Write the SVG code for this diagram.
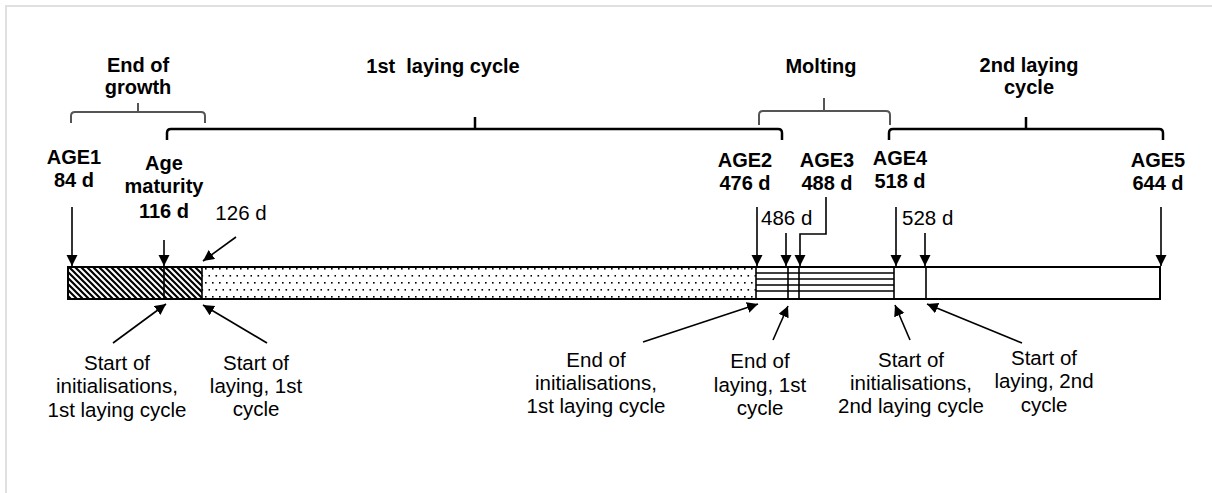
<svg xmlns="http://www.w3.org/2000/svg" width="1212" height="493" viewBox="0 0 1212 493">
<style>
text{font-family:"Liberation Sans",Arial,sans-serif;font-size:20.5px;fill:#000;text-anchor:middle}
.b{font-weight:bold;font-size:20px}
.l{text-anchor:start}
.arr{stroke:#000;stroke-width:1.6;fill:none;marker-end:url(#ah)}
.brk{fill:none;stroke:#000;stroke-width:2.5}
.brg{fill:none;stroke:#555;stroke-width:2}
.edge{stroke:#000;stroke-width:1.6}
</style>
<defs>
<marker id="ah" markerUnits="userSpaceOnUse" markerWidth="14" markerHeight="14" refX="11" refY="5.5" orient="auto">
<path d="M0,0 L11,5.5 L0,11 z" fill="#000"/>
</marker>
<pattern id="hatch" patternUnits="userSpaceOnUse" width="6" height="6">
<rect width="6" height="6" fill="#fff"/>
<path d="M0,0 L6,6 M-1,5 L1,7 M5,-1 L7,1" stroke="#000" stroke-width="2.2"/>
</pattern>
<pattern id="dots" patternUnits="userSpaceOnUse" width="14" height="14">
<rect width="14" height="14" fill="#fff"/>
<rect x="2" y="2" width="1.6" height="1.6" fill="#000"/>
<rect x="9" y="2" width="1.6" height="1.6" fill="#000"/>
<rect x="5.5" y="9" width="1.6" height="1.6" fill="#000"/>
<rect x="12.5" y="9" width="1.6" height="1.6" fill="#000"/>
</pattern>
</defs>
<rect width="1212" height="493" fill="#fff"/>
<path d="M6,493 L6,6 L1212,6" fill="none" stroke="#e0e0e0" stroke-width="2"/>

<g id="bar">
<rect x="68" y="267" width="134" height="32" fill="url(#hatch)"/>
<rect x="202" y="267" width="554" height="32" fill="url(#dots)"/>
<rect x="756" y="267" width="138" height="32" fill="#fff"/>
<path d="M756,273 H894 M756,279 H894 M756,285 H894 M756,291 H894" stroke="#000" stroke-width="1.6"/>
<rect x="894" y="267" width="266" height="32" fill="#fff"/>
<path class="edge" d="M164,267 V299 M202,267 V299 M756,267 V299 M788,267 V299 M799,267 V299 M894,267 V299 M926,267 V299"/>
<rect x="68" y="267" width="1092" height="32" fill="none" stroke="#000" stroke-width="2"/>
</g>

<g id="brackets">
<path class="brg" d="M71,123 L71,116 Q71,112 75,112 L201,112 Q205,112 205,116 L205,123 M138,112 L138,103"/>
<path class="brk" d="M167,140 L167,133 Q167,129 171,129 L778,129 Q782,129 782,133 L782,140 M475,129 L475,117"/>
<path class="brg" d="M759,125 L759,115 Q759,111 763,111 L886,111 Q890,111 890,115 L890,125 M824,111 L824,98"/>
<path class="brk" d="M889,140 L889,133 Q889,129 893,129 L1159,129 Q1163,129 1163,133 L1163,140 M1026,129 L1026,117"/>
</g>

<g id="connectors">
<path class="arr" d="M72,207 L72,266"/>
<path class="arr" d="M164,240 L164,266"/>
<path class="arr" d="M236,237 L203,261"/>
<path class="arr" d="M757,207 L757,266"/>
<path class="arr" d="M786,233 L786,266"/>
<path class="arr" d="M826,197 L826,234 L800,234 L800,266"/>
<path class="arr" d="M896,207 L896,266"/>
<path class="arr" d="M925,233 L925,266"/>
<path class="arr" d="M1161,207 L1161,266"/>
<path class="arr" d="M113,343 L166,304"/>
<path class="arr" d="M267,343 L203,305"/>
<path class="arr" d="M643,342 L758,304"/>
<path class="arr" d="M773,340 L788,306"/>
<path class="arr" d="M910,340 L895,305"/>
<path class="arr" d="M1022,343 L927,304"/>
</g>

<g id="label-end-growth"><text class="b" x="138" y="72">End of</text><text class="b" x="138" y="94">growth</text></g>
<g id="label-1st-cycle"><text class="b" x="443" y="73" xml:space="preserve">1st  laying cycle</text></g>
<g id="label-molting"><text class="b" x="821" y="73">Molting</text></g>
<g id="label-2nd-cycle"><text class="b" x="1029" y="72">2nd laying</text><text class="b" x="1029" y="94">cycle</text></g>

<g id="age1"><text class="b" x="74" y="164">AGE1</text><text class="b" x="74" y="187">84 d</text></g>
<g id="age-maturity"><text class="b" x="164" y="170">Age</text><text class="b" x="164" y="193">maturity</text><text class="b" x="164" y="218">116 d</text></g>
<g id="d126"><text x="241" y="220">126 d</text></g>
<g id="age2"><text class="b" x="745" y="167">AGE2</text><text class="b" x="745" y="190">476 d</text></g>
<g id="age3"><text class="b" x="827" y="167">AGE3</text><text class="b" x="827" y="190">488 d</text></g>
<g id="age4"><text class="b" x="900" y="165">AGE4</text><text class="b" x="900" y="188">518 d</text></g>
<g id="age5"><text class="b" x="1158" y="167">AGE5</text><text class="b" x="1158" y="190">644 d</text></g>
<g id="d486"><text class="l" x="761" y="225">486 d</text></g>
<g id="d528"><text class="l" x="902" y="225">528 d</text></g>

<g id="start-init-1"><text x="117" y="370">Start of</text><text x="117" y="393">initialisations,</text><text x="117" y="417">1st laying cycle</text></g>
<g id="start-lay-1"><text x="256" y="370">Start of</text><text x="256" y="393">laying, 1st</text><text x="256" y="416">cycle</text></g>
<g id="end-init-1"><text x="596" y="367">End of</text><text x="596" y="390">initialisations,</text><text x="596" y="413">1st laying cycle</text></g>
<g id="end-lay-1"><text x="760" y="368">End of</text><text x="760" y="392">laying, 1st</text><text x="760" y="415">cycle</text></g>
<g id="start-init-2"><text x="911" y="367">Start of</text><text x="911" y="390">initialisations,</text><text x="911" y="413">2nd laying cycle</text></g>
<g id="start-lay-2"><text x="1044" y="365">Start of</text><text x="1044" y="388">laying, 2nd</text><text x="1044" y="412">cycle</text></g>
</svg>
